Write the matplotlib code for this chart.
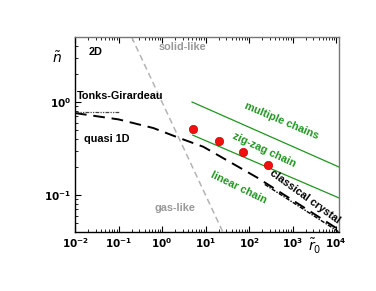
'''
Phase diagram of a quasi 1D system: reduced density vs. reduced length scale,
with the structural regions (linear chain, zig-zag chain, multiple chains).
'''

import matplotlib
matplotlib.use('Agg')
import matplotlib.pyplot as plt
import matplotlib.ticker as ticker

plt.rcParams['font.family'] = ['Liberation Sans', 'DejaVu Sans']

# data
# quasi 1D crossover curve (black dashed)
quasi_r = [0.01, 0.1, 0.63, 2.5, 8.9, 31.6, 150, 1000, 11000]
quasi_n = [0.76, 0.65, 0.525, 0.41, 0.33, 0.235, 0.155, 0.088, 0.043]

# classical crystal asymptote (dash-dot)
crystal_r = [230, 11700]
crystal_n = [0.13, 0.04]

# Tonks-Girardeau limit (dash-dot)
tonks_r = [0.01, 0.11]
tonks_n = [0.78, 0.78]

# solid-like / gas-like boundary (grey dashed)
boundary_r = [0.2, 25]
boundary_n = [5.0, 0.04]

# structural transitions (green)
upper_r = [4.9, 11700]
upper_n = [1.0, 0.2]
lower_r = [5.1, 11700]
lower_n = [0.44, 0.093]

# simulation points (red)
points_r = [5.1, 20.5, 73, 275]
points_n = [0.51, 0.38, 0.29, 0.21]

x_ticks = [1e-2, 1e-1, 1e0, 1e1, 1e2, 1e3, 1e4]
x_ticklabels = [r'$\mathbf{10^{-2}}$', r'$\mathbf{10^{-1}}$', r'$\mathbf{10^{0}}$',
                r'$\mathbf{10^{1}}$', r'$\mathbf{10^{2}}$', r'$\mathbf{10^{3}}$',
                r'$\mathbf{10^{4}}$']
y_ticks = [1e-1, 1e0]
y_ticklabels = [r'$\mathbf{10^{-1}}$', r'$\mathbf{10^{0}}$']

green = '#1e961e'


def make_plot():

    fig = plt.figure(figsize=(3.76, 2.91), dpi=100)
    ax = fig.add_axes([0.1995, 0.2027, 0.7021, 0.6702])

    # curves
    ax.plot(boundary_r, boundary_n, color='#b4b4b4', lw=1.1, dashes=(4, 2.5))
    ax.plot(quasi_r, quasi_n, color='black', lw=1.4, dashes=(6, 3.5))
    ax.plot(crystal_r, crystal_n, color='black', lw=1.0, dashes=(3, 1, 1, 1))
    ax.plot(tonks_r, tonks_n, color='#444444', lw=0.9, dashes=(3, 1, 1, 1, 1, 1))
    ax.plot(upper_r, upper_n, color=green, lw=0.9)
    ax.plot(lower_r, lower_n, color=green, lw=0.9)

    # red points
    ax.plot(points_r, points_n, 'o', ms=6, color='#f01010', mec='#d00000', mew=0.5)

    # axes
    ax.set_xscale('log')
    ax.set_yscale('log')
    ax.set_xlim(1e-2, 1.17e4)
    ax.set_ylim(0.04, 5.0)
    ax.set_xticks(x_ticks)
    ax.set_xticklabels(x_ticklabels)
    ax.set_yticks(y_ticks)
    ax.set_yticklabels(y_ticklabels)
    ax.xaxis.set_minor_locator(ticker.LogLocator(base=10, subs=range(2, 10), numticks=20))
    ax.yaxis.set_minor_locator(ticker.LogLocator(base=10, subs=range(2, 10), numticks=20))
    ax.yaxis.set_minor_formatter(ticker.NullFormatter())
    ax.xaxis.set_minor_formatter(ticker.NullFormatter())
    ax.tick_params(which='both', direction='in', top=True, right=False, labelsize=7.5, pad=3)
    ax.tick_params(which='major', length=4, width=0.8)
    ax.tick_params(which='minor', length=2, width=0.6)
    for side in ['left', 'bottom']:
        ax.spines[side].set_linewidth(1.0)
    for side in ['top', 'right']:
        ax.spines[side].set_color('#777777')
        ax.spines[side].set_linewidth(1.0)

    # axis labels
    ax.text(-0.068, 0.89, r'$\tilde{n}$', transform=ax.transAxes, fontsize=10,
            ha='center', va='center')
    ax.text(0.909, -0.075, r'$\tilde{r}_0$', transform=ax.transAxes, fontsize=10,
            ha='center', va='center')

    # region labels
    bold = dict(fontsize=7.8, fontweight='bold')
    ax.text(0.021, 3.45, '2D', color='black', va='center', **bold)
    ax.text(0.85, 3.9, 'solid-like', color='#999999', va='center', **bold)
    ax.text(0.011, 1.16, 'Tonks-Girardeau', color='black', va='center', **bold)
    ax.text(0.016, 0.40, 'quasi 1D', color='black', va='center', **bold)
    ax.text(0.66, 0.072, 'gas-like', color='#999999', va='center', **bold)
    ax.text(550, 0.625, 'multiple chains', color=green, rotation=-23,
            ha='center', va='center', **bold)
    ax.text(219, 0.305, 'zig-zag chain', color=green, rotation=-25,
            ha='center', va='center', **bold)
    ax.text(59, 0.119, 'linear chain', color=green, rotation=-26,
            ha='center', va='center', **bold)
    ax.text(1950, 0.095, 'classical crystal', color='black', rotation=-36,
            ha='center', va='center', **bold)

    fig.savefig('out.png', dpi=100)


def main():
    make_plot()


if __name__ == '__main__':
    main()
